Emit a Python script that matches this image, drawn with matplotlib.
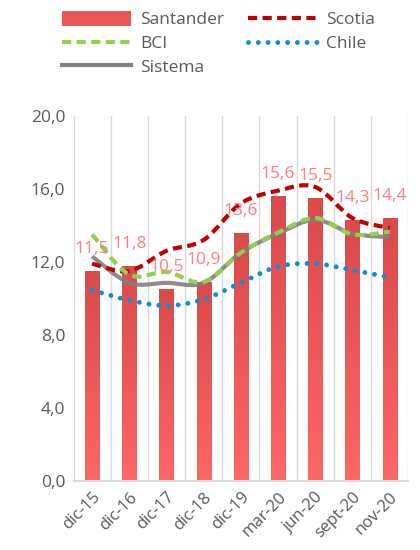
import numpy as np
import matplotlib.pyplot as plt
from matplotlib.path import Path
from matplotlib.patches import PathPatch, Patch
from matplotlib.lines import Line2D
from matplotlib.colors import LinearSegmentedColormap

plt.rcParams['font.family'] = ['Open Sans', 'DejaVu Sans']

# Data
fechas = ['dic-15', 'dic-16', 'dic-17', 'dic-18', 'dic-19', 'mar-20', 'jun-20', 'sept-20', 'nov-20']
santander = [11.5, 11.8, 10.5, 10.9, 13.6, 15.6, 15.5, 14.3, 14.4]
scotia = [11.9, 11.5, 12.6, 13.2, 15.2, 15.9, 16.1, 14.4, 13.85]
bci = [13.5, 11.3, 11.45, 10.9, 12.5, 13.6, 14.4, 13.5, 13.65]
chile = [10.45, 9.9, 9.6, 9.95, 10.85, 11.75, 11.9, 11.55, 11.15]
sistema = [12.3, 10.85, 10.85, 10.85, 12.5, 13.55, 14.3, 13.55, 13.35]


# Excel-like smoothed line: cubic Bezier through the points (Catmull-Rom tangents)
def smooth_path(xs, ys, k=1/6):
    xs = np.asarray(xs, float)
    ys = np.asarray(ys, float)
    n = len(xs)
    verts = [(xs[0], ys[0])]
    codes = [Path.MOVETO]
    for i in range(n - 1):
        p0 = (xs[max(i - 1, 0)], ys[max(i - 1, 0)])
        p1 = (xs[i], ys[i])
        p2 = (xs[i + 1], ys[i + 1])
        p3 = (xs[min(i + 2, n - 1)], ys[min(i + 2, n - 1)])
        c1 = (p1[0] + (p2[0] - p0[0]) * k, p1[1] + (p2[1] - p0[1]) * k)
        c2 = (p2[0] - (p3[0] - p1[0]) * k, p2[1] - (p3[1] - p1[1]) * k)
        verts += [c1, c2, p2]
        codes += [Path.CURVE4] * 3
    return Path(verts, codes)


fig = plt.figure(figsize=(4.2, 5.5), dpi=100)
ax = fig.add_axes([0.175, 0.1255, 0.797, 0.664])

x = np.arange(len(fechas))

# Bars with vertical gradient
grad_cmap = LinearSegmentedColormap.from_list('sant', ['#FF6666', '#D94A4B'])
bars = ax.bar(x, santander, width=0.38, color='#E85656', zorder=2)
grad = np.linspace(0, 1, 256).reshape(-1, 1)
for b in bars:
    x0 = b.get_x()
    h = b.get_height()
    im = ax.imshow(grad, extent=[x0, x0 + b.get_width(), 0, h], origin='lower',
                   aspect='auto', cmap=grad_cmap, zorder=2.1)
    im.set_clip_path(b)

# Smoothed lines
dash = (0, (2.2, 1.3))
dots = (0, (0.01, 2.0))
ax.add_patch(PathPatch(smooth_path(x, scotia), fill=False, edgecolor='#C00000',
                       lw=3, linestyle=dash, zorder=4, capstyle='butt'))
ax.add_patch(PathPatch(smooth_path(x, bci), fill=False, edgecolor='#92D050',
                       lw=3, linestyle=dash, zorder=4))
ax.add_patch(PathPatch(smooth_path(x, sistema), fill=False, edgecolor='#808080',
                       lw=3, alpha=0.9, zorder=3))
ax.add_patch(PathPatch(smooth_path(x, chile), fill=False, edgecolor='#0A8ED9',
                       lw=3.5, linestyle=dots, capstyle='round', zorder=4))

# Data labels
for xi, v in zip(x, santander):
    ax.annotate(f'{v:.1f}'.replace('.', ','), (xi, v), xytext=(0, 10),
                textcoords='offset points', ha='center', va='bottom',
                fontsize=12.5, color='#FF7C80', zorder=5)

# Axes styling
ax.set_xlim(-0.5, len(fechas) - 0.5)
ax.set_ylim(0, 20)
ax.set_yticks([0, 4, 8, 12, 16, 20])
ax.set_yticklabels([f'{v:.1f}'.replace('.', ',') for v in [0, 4, 8, 12, 16, 20]],
                   fontsize=12.5, color='#595959')
ax.set_xticks(x)
ax.set_xticklabels(fechas, rotation=45, ha='right', rotation_mode='anchor',
                   fontsize=12, color='#595959')
ax.tick_params(length=0, pad=6)
for xv in np.arange(-0.5, len(fechas), 1.0):
    ax.axvline(xv, color='#D9D9D9', lw=1, zorder=1)
for s in ['top', 'right', 'left']:
    ax.spines[s].set_visible(False)
ax.spines['bottom'].set_color('#D9D9D9')
ax.spines['bottom'].set_linewidth(1.5)

# Legend
handles = [
    Patch(facecolor='#E85858', edgecolor='none'),
    Line2D([], [], color='#92D050', lw=3, linestyle=dash),
    Line2D([], [], color='#808080', lw=3),
    Line2D([], [], color='#C00000', lw=3, linestyle=dash),
    Line2D([], [], color='#0A8ED9', lw=3.5, linestyle=dots, dash_capstyle='round'),
]
labels = ['Santander', 'BCI', 'Sistema', 'Scotia', 'Chile']
fig.legend(handles, labels, ncol=2, loc='upper left', bbox_to_anchor=(0.11, 1.008),
           frameon=False, fontsize=12.5, handlelength=4, handleheight=0.9,
           labelspacing=0.38, columnspacing=1.4, handletextpad=0.5, labelcolor='#595959')

fig.savefig('out.png', dpi=100)
